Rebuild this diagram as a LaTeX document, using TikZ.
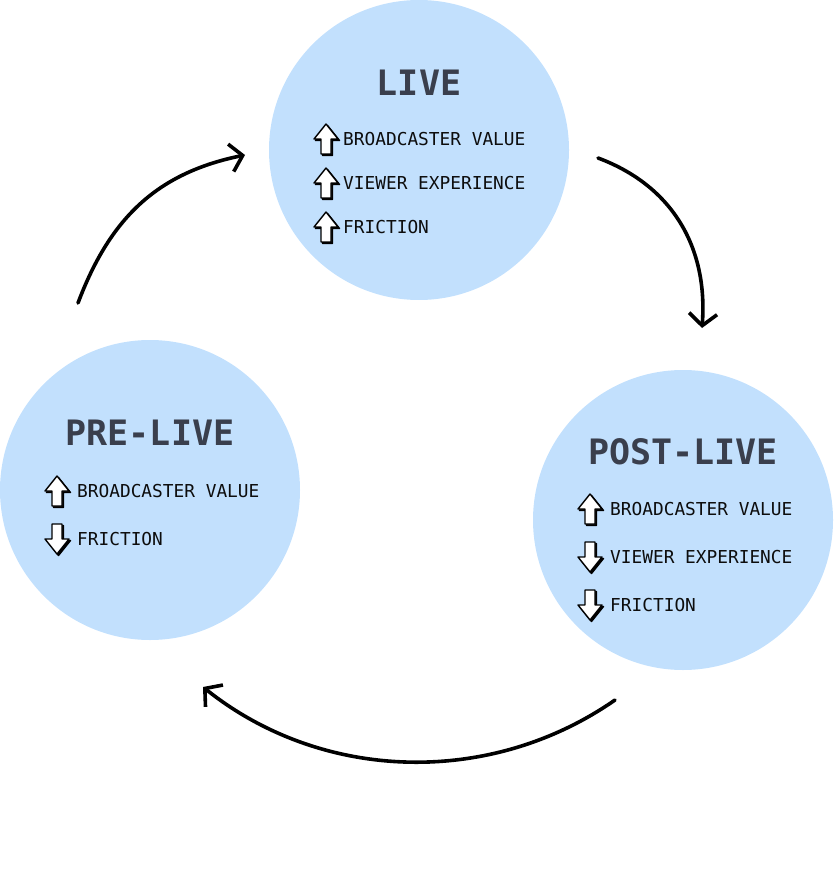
\documentclass[tikz,border=0pt]{standalone}
\usepackage{fontspec}
\newfontfamily\monofont{DejaVu Sans Mono}
\usetikzlibrary{arrows.meta}
\definecolor{cCircle}{HTML}{C2E0FD}
\definecolor{cTitle}{HTML}{3A3F4D}
\definecolor{cInk}{HTML}{0D0D0D}
\newcommand\glyphpath{(-5,15) -- (-5,0) -- (-12,0) -- (0,-15) -- (12,0) -- (5,0) -- (5,15) -- cycle}
\tikzset{
  phase/.style={
    circle, fill=cCircle, minimum size=300pt, inner sep=0pt,
  },
  phasetitle/.style={
    font=\monofont\bfseries\fontsize{35}{35}\selectfont, text=cTitle, inner sep=0pt,
  },
  item/.style={
    anchor=west, font=\monofont\fontsize{17.8}{17.8}\selectfont, text=cInk, inner sep=0pt,
  },
  cycarr/.style={
    -{Straight Barb[length=12pt,width=28pt]}, line width=3.6pt, line cap=round,
  },
  glyph/.style={
    draw=black, line width=1.4pt, line join=round,
  },
  upicon/.pic={
    \path[glyph, fill=black, shift={(1.5,1.5)}] \glyphpath;
    \path[glyph, fill=white] \glyphpath;
  },
  downicon/.pic={
    \begin{scope}[yscale=-1]
      \path[glyph, fill=black, shift={(1.5,-1.5)}] \glyphpath;
      \path[glyph, fill=white] \glyphpath;
    \end{scope}
  },
}

\begin{document}
\begin{tikzpicture}[x=1pt, y=-1pt]
\useasboundingbox (0,0) rectangle (833,890);

% ── phases ──
\node[phase] (live) at (419,150) {};
\node[phase] (prelive) at (150,490) {};
\node[phase] (postlive) at (683,520) {};

% ── LIVE ──
\node[phasetitle] (liveT) at (419,83) {LIVE};
\pic at (326,139) {upicon};
\node[item] (liveA) at (343,139) {BROADCASTER VALUE};
\pic at (326,183) {upicon};
\node[item] (liveB) at (343,183) {VIEWER EXPERIENCE};
\pic at (326,227) {upicon};
\node[item] (liveC) at (343,227) {FRICTION};

% ── PRE-LIVE ──
\node[phasetitle] (preT) at (150,433) {PRE-LIVE};
\pic at (57,491) {upicon};
\node[item] (preA) at (77,491) {BROADCASTER VALUE};
\pic at (57,539) {downicon};
\node[item] (preB) at (77,539) {FRICTION};

% ── POST-LIVE ──
\node[phasetitle] (postT) at (683,452) {POST-LIVE};
\pic at (590,509) {upicon};
\node[item] (postA) at (610,509) {BROADCASTER VALUE};
\pic at (590,557) {downicon};
\node[item] (postB) at (610,557) {VIEWER EXPERIENCE};
\pic at (590,605) {downicon};
\node[item] (postC) at (610,605) {FRICTION};

% ── cycle arrows ──
\coordinate (liveOut) at (598,158);
\coordinate (postIn) at (702,328);
\coordinate (postOut) at (615,700);
\coordinate (preIn) at (203,687);
\coordinate (preOut) at (78,303);
\coordinate (liveIn) at (245,155);

\draw[cycarr] (liveOut) .. controls (673,186) and (708,248) .. (postIn);
\draw[cycarr] (postOut) .. controls (490,787) and (322,782) .. (preIn);
\draw[cycarr] (preOut) .. controls (110,218) and (157,173) .. (liveIn);

\end{tikzpicture}
\end{document}
